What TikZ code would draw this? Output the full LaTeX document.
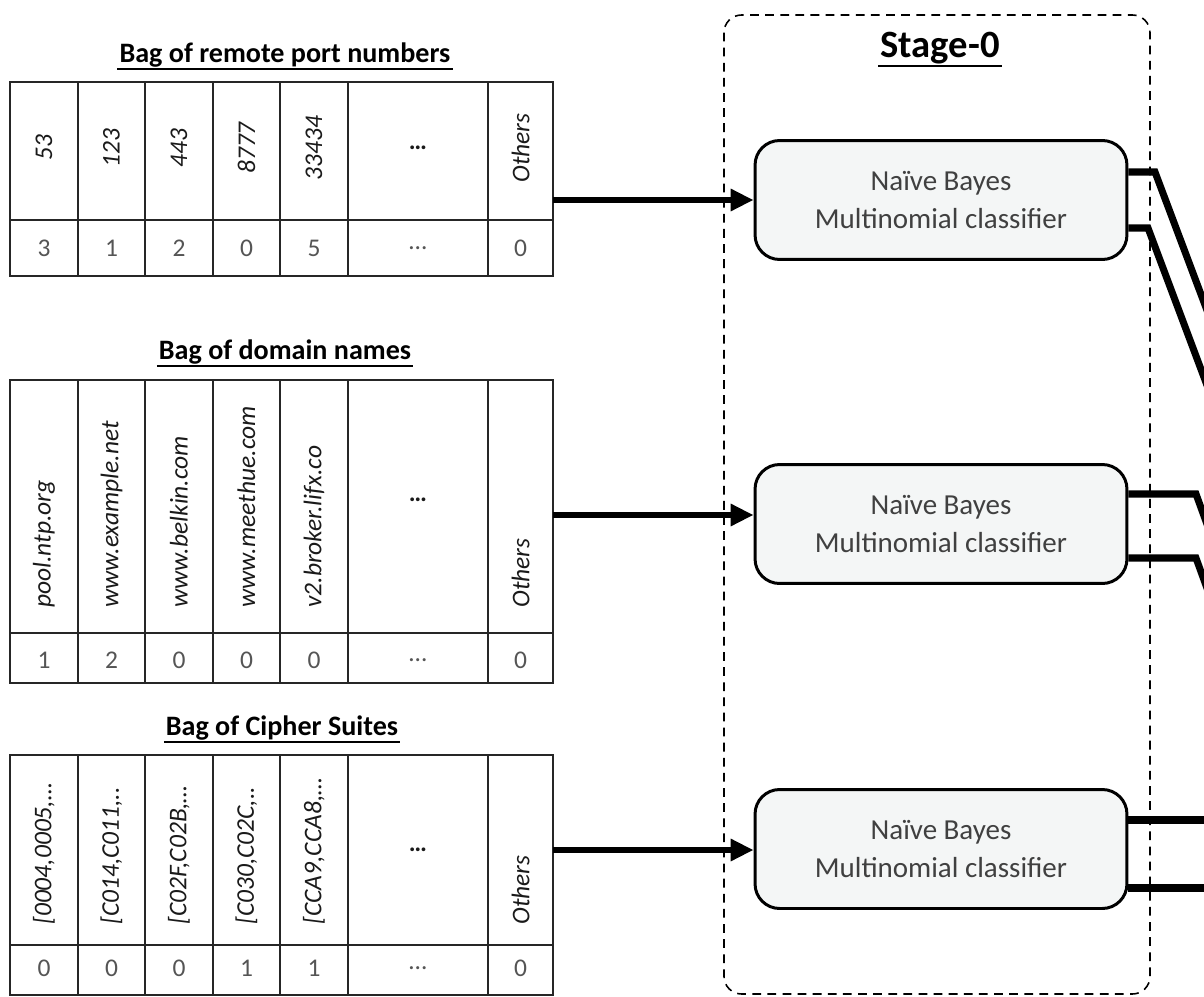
\documentclass[tikz,border=0pt]{standalone}
\usepackage{fontspec}
\setmainfont{Carlito}
\usetikzlibrary{arrows.meta}

\definecolor{hdrcol}{HTML}{1A1A1A}
\definecolor{valcol}{HTML}{555555}
\definecolor{boxfill}{HTML}{F4F6F6}
\definecolor{boxtext}{HTML}{404040}

\tikzset{
  cell/.style={draw=black!85, line width=0.8pt},
  hdr/.style={rotate=90, inner sep=0pt, text=hdrcol,
    font=\fontsize{14.5}{16}\selectfont\itshape},
  hdrdots/.style={inner sep=0pt, text=hdrcol, font=\fontsize{14.5}{16}\selectfont\bfseries},
  val/.style={inner sep=0pt, text=valcol, font=\fontsize{14.5}{16}\selectfont},
  bagtitle/.style={inner sep=1pt, font=\fontsize{16}{19}\selectfont\bfseries},
  titlerule/.style={line width=1.1pt},
  nbbox/.style={draw, line width=1.7pt, rounded corners=14pt, fill=boxfill,
    minimum width=7.44cm, minimum height=2.38cm, align=center,
    text=boxtext, font=\fontsize{16.5}{22}\selectfont},
  feed/.style={line width=3.2pt, -{Triangle[length=13pt,width=12pt]}},
  outwire/.style={line width=4pt},
}

\begin{document}
\begin{tikzpicture}[x=0.02cm, y=-0.02cm]

  \useasboundingbox (0,0) rectangle (1204,997);
  \clip (0,0) rectangle (1204,997);

  % Stage-0 frame
  \draw[line width=0.9pt, dash pattern=on 5pt off 3.6pt, rounded corners=10pt]
    (724,15) rectangle (1150,994);
  \node[inner sep=1pt, font=\fontsize{22}{26}\selectfont\bfseries] (stage) at (940,48) {Stage-0};
  \draw[titlerule] (stage.south west) -- (stage.south east);

  % Bag of remote port numbers
  \node[bagtitle] (porttitle) at (285,55) {Bag of remote port numbers};
  \draw[titlerule] (porttitle.south west) -- (porttitle.south east);
  \draw[cell] (10,82) rectangle (553,276);
  \draw[cell] (10,220) -- (553,220);
  \foreach \x in {78,145,213,280,348,488}
    \draw[cell] (\x,82) -- (\x,276);
  \foreach \x/\t [count=\i] in {44/53, 111.5/123, 179/443, 246.5/8777, 314/33434, 520.5/Others}
    \node[hdr] (porth\i) at (\x,148) {\t};
  \node[hdrdots] (portdots) at (418,148) {…};
  \foreach \x/\t [count=\i] in {44/3, 111.5/1, 179/2, 246.5/0, 314/5, 418/…, 520.5/0}
    \node[val] (portv\i) at (\x,248) {\t};

  % Bag of domain names
  \node[bagtitle] (domtitle) at (285,352) {Bag of domain names};
  \draw[titlerule] (domtitle.south west) -- (domtitle.south east);
  \draw[cell] (10,380) rectangle (553,683);
  \draw[cell] (10,633) -- (553,633);
  \foreach \x in {78,145,213,280,348,488}
    \draw[cell] (\x,380) -- (\x,683);
  \foreach \x/\t [count=\i] in {44/pool.ntp.org, 111.5/www.example.net, 179/www.belkin.com, 246.5/www.meethue.com, 314/v2.broker.lifx.co, 520.5/Others}
    \node[hdr, anchor=west] (domh\i) at (\x,608) {\t};
  \node[hdrdots] (domdots) at (418,500) {…};
  \foreach \x/\t [count=\i] in {44/1, 111.5/2, 179/0, 246.5/0, 314/0, 418/…, 520.5/0}
    \node[val] (domv\i) at (\x,660) {\t};

  % Bag of Cipher Suites
  \node[bagtitle] (ciphtitle) at (282,728) {Bag of Cipher Suites};
  \draw[titlerule] (ciphtitle.south west) -- (ciphtitle.south east);
  \draw[cell] (10,755) rectangle (553,995);
  \draw[cell] (10,945) -- (553,945);
  \foreach \x in {78,145,213,280,348,488}
    \draw[cell] (\x,755) -- (\x,995);
  \foreach \x/\t [count=\i] in {44/{[0004,0005,…}, 111.5/{[C014,C011,..}, 179/{[C02F,C02B,…}, 246.5/{[C030,C02C,..}, 314/{[CCA9,CCA8,…}, 520.5/Others}
    \node[hdr, anchor=west] (ciphh\i) at (\x,925) {\t};
  \node[hdrdots] (ciphdots) at (418,850) {…};
  \foreach \x/\t [count=\i] in {44/0, 111.5/0, 179/0, 246.5/1, 314/1, 418/…, 520.5/0}
    \node[val] (ciphv\i) at (\x,968) {\t};

  % classifiers
  \node[nbbox] (nb1) at (941,200) {Naïve Bayes\\Multinomial classifier};
  \node[nbbox] (nb2) at (941,524) {Naïve Bayes\\Multinomial classifier};
  \node[nbbox] (nb3) at (941,849) {Naïve Bayes\\Multinomial classifier};

  % feeds into the classifiers
  \coordinate (portout) at (553,200);
  \coordinate (domout) at (553,515);
  \coordinate (ciphout) at (553,850);
  \draw[feed] (portout) -- (portout -| nb1.west);
  \draw[feed] (domout) -- (domout -| nb2.west);
  \draw[feed] (ciphout) -- (ciphout -| nb3.west);

  % outputs leaving stage-0
  \coordinate (k1a) at (1155,172);
  \coordinate (k1b) at (1148,228);
  \coordinate (k2a) at (1196,494);
  \coordinate (k2b) at (1196,558);
  \draw[outwire] (nb1.east |- k1a) -- (k1a) -- (1220,345);
  \draw[outwire] (nb1.east |- k1b) -- (k1b) -- (1220,420);
  \draw[outwire] (nb2.east |- k2a) -- (k2a) -- (1220,560);
  \draw[outwire] (nb2.east |- k2b) -- (k2b) -- (1220,624);
  \draw[outwire] (nb3.east |- 0,820) -- (1220,820);
  \draw[outwire] (nb3.east |- 0,888) -- (1220,888);

\end{tikzpicture}
\end{document}
